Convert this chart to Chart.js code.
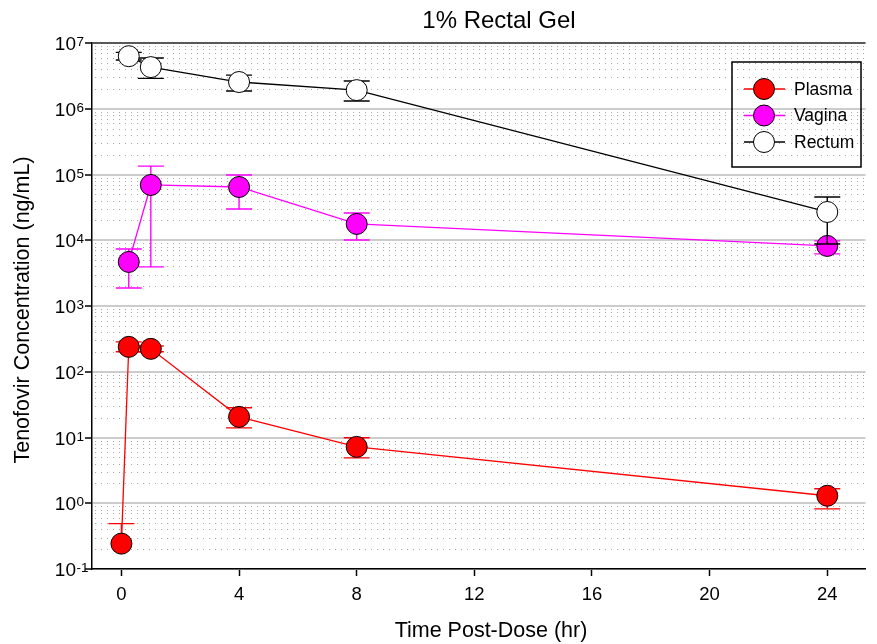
<!DOCTYPE html>
<html>
<head>
<meta charset="utf-8">
<script src="https://cdn.jsdelivr.net/npm/chart.js@4/dist/chart.umd.min.js"></script>
<style>
  html, body { margin: 0; padding: 0; background: #fff; }
</style>
</head>
<body>
<canvas id="pk" width="877" height="644"></canvas>
<script>
// time points (hr)
const hours = [0, 0.25, 1, 4, 8, 24]

// means and error bar ends (null = not shown)
const plasma     = [0.243, 239, 223, 20.6, 7.2, 1.3]
const plasmaLow  = [null, 201, 201, 14.0, 4.9, 0.82]
const plasmaHigh = [0.49, 285, 246, 28.3, 9.9, 1.66]

const vagina     = [null, 4680, 69300, 64600, 17700, 8200]
const vaginaLow  = [null, 1880, 3930, 29900, 10100, 6200]
const vaginaHigh = [null, 7380, 134000, 98500, 26000, 9770]

const rectum     = [null, 6.3e6, 4.3e6, 2.55e6, 1.92e6, 26900]
const rectumLow  = [null, 5.5e6, 2.9e6, 1.86e6, 1.31e6, 8790]
const rectumHigh = [null, 7.2e6, 5.9e6, 3.25e6, 2.64e6, 45500]

const xTicks = [0, 4, 8, 12, 16, 20, 24]
const yTicks = [1e-1, 1e0, 1e1, 1e2, 1e3, 1e4, 1e5, 1e6, 1e7]

const FONT = "'Liberation Sans', Arial, sans-serif"

function points(values, low, high){
  const out = []
  hours.forEach((h, i) => {
    if (values[i] == null) return
    out.push({ x: h, y: values[i], lo: low[i], hi: high[i] })
  })
  return out
}

function series(label, values, low, high, color, fill, order){
  return {
    label: label,
    data: points(values, low, high),
    borderColor: color,
    borderWidth: 1.3,
    pointRadius: 10.5,
    pointHoverRadius: 10.5,
    pointBorderWidth: 1,
    pointBorderColor: '#000',
    pointBackgroundColor: fill,
    tension: 0,
    order: order
  }
}

// vertical error bars with caps, drawn under each series' own markers
const errorBars = {
  id: 'errorBars',
  beforeDatasetDraw(chart, args){
    const ds = chart.data.datasets[args.index]
    const xs = chart.scales.x, ys = chart.scales.y
    const ctx = chart.ctx
    ctx.save()
    ctx.strokeStyle = ds.borderColor
    ctx.lineWidth = 1.4
    ds.data.forEach(p => {
      const px = xs.getPixelForValue(p.x)
      const py = ys.getPixelForValue(p.y)
      ;[p.lo, p.hi].forEach(v => {
        if (v == null) return
        const vy = ys.getPixelForValue(v)
        ctx.beginPath()
        ctx.moveTo(px, py)
        ctx.lineTo(px, vy)
        ctx.moveTo(px - 13, vy)
        ctx.lineTo(px + 13, vy)
        ctx.stroke()
      })
    })
    ctx.restore()
  }
}

// dotted minor lines inside each decade
const minorGrid = {
  id: 'minorGrid',
  beforeDatasetsDraw(chart){
    const ys = chart.scales.y
    const area = chart.chartArea
    const ctx = chart.ctx
    ctx.save()
    ctx.strokeStyle = '#a8a8a8'
    ctx.lineWidth = 1
    ctx.setLineDash([1, 5])
    for (let d = -1; d < 7; d++){
      for (let m = 2; m <= 9; m++){
        const y = Math.round(ys.getPixelForValue(m * Math.pow(10, d))) + 0.5
        ctx.beginPath()
        ctx.moveTo(area.left + 3, y)
        ctx.lineTo(area.right, y)
        ctx.stroke()
      }
    }
    ctx.restore()
  }
}

// titles, superscript y labels, top frame line and the boxed legend
const decorations = {
  id: 'decorations',
  afterDraw(chart){
    const ctx = chart.ctx
    const area = chart.chartArea
    const ys = chart.scales.y
    ctx.save()

    ctx.strokeStyle = '#333'
    ctx.lineWidth = 1.5
    ctx.beginPath()
    ctx.moveTo(area.left, area.top)
    ctx.lineTo(area.right, area.top)
    ctx.stroke()

    ctx.fillStyle = '#000'
    ctx.textAlign = 'center'
    ctx.textBaseline = 'middle'
    ctx.font = '24px ' + FONT
    ctx.fillText('1% Rectal Gel', 499, 21)
    ctx.font = '21.5px ' + FONT
    ctx.fillText('Time Post-Dose (hr)', 491, 631)
    ctx.save()
    ctx.translate(23, 310)
    ctx.rotate(-Math.PI / 2)
    ctx.fillText('Tenofovir Concentration (ng/mL)', 0, 0)
    ctx.restore()

    ys.ticks.forEach(t => {
      const py = ys.getPixelForValue(t.value)
      const exp = String(Math.round(Math.log10(t.value)))
      ctx.textBaseline = 'alphabetic'
      ctx.textAlign = 'right'
      ctx.font = '19px ' + FONT
      ctx.fillText('10', 76, py + 7)
      ctx.textAlign = 'left'
      ctx.font = '13.5px ' + FONT
      ctx.fillText(exp, 76.5, py + 3)
    })

    // legend
    ctx.strokeStyle = '#000'
    ctx.lineWidth = 1.5
    ctx.strokeRect(732, 62, 129, 105)
    chart.data.datasets.forEach((ds, i) => {
      const cy = 89 + i * 26.5
      ctx.strokeStyle = ds.borderColor
      ctx.lineWidth = 1.3
      ctx.beginPath()
      ctx.moveTo(744, cy)
      ctx.lineTo(785, cy)
      ctx.stroke()
      ctx.beginPath()
      ctx.arc(764, cy, 10.5, 0, Math.PI * 2)
      ctx.fillStyle = ds.pointBackgroundColor
      ctx.fill()
      ctx.strokeStyle = '#000'
      ctx.lineWidth = 1
      ctx.stroke()
      ctx.fillStyle = '#000'
      ctx.textAlign = 'left'
      ctx.textBaseline = 'middle'
      ctx.font = '17.5px ' + FONT
      ctx.fillText(ds.label, 794, cy + 1)
    })
    ctx.restore()
  }
}

new Chart(document.getElementById('pk'), {
  type: 'line',
  data: {
    datasets: [
      series('Plasma', plasma, plasmaLow, plasmaHigh, '#ff0000', '#ff0000', 3),
      series('Vagina', vagina, vaginaLow, vaginaHigh, '#ff00ff', '#ff00ff', 2),
      series('Rectum', rectum, rectumLow, rectumHigh, '#000000', '#ffffff', 1)
    ]
  },
  options: {
    responsive: false,
    animation: false,
    devicePixelRatio: 1,
    layout: { padding: { top: 43, right: 9, left: 0, bottom: 0 } },
    plugins: {
      legend: { display: false },
      title: { display: false },
      tooltip: { enabled: false }
    },
    scales: {
      x: {
        type: 'linear',
        min: -1,
        max: 25.3,
        afterBuildTicks: s => { s.ticks = xTicks.map(v => ({ value: v })) },
        afterFit: s => { s.height = 75 },
        ticks: { color: '#000', font: { family: FONT, size: 18.5 }, padding: 8, maxRotation: 0 },
        grid: { drawOnChartArea: false, tickColor: '#000', tickLength: 7, tickWidth: 1.5 },
        border: { color: '#000', width: 1.5 }
      },
      y: {
        type: 'logarithmic',
        min: 0.1,
        max: 1e7,
        afterBuildTicks: s => { s.ticks = yTicks.map(v => ({ value: v })) },
        afterFit: s => { s.width = 92 },
        ticks: { display: false },
        grid: { color: '#cccccc', lineWidth: 2, tickColor: '#000', tickLength: 7, tickWidth: 1.5 },
        border: { color: '#000', width: 1.5 }
      }
    }
  },
  plugins: [minorGrid, errorBars, decorations]
})
</script>
</body>
</html>
